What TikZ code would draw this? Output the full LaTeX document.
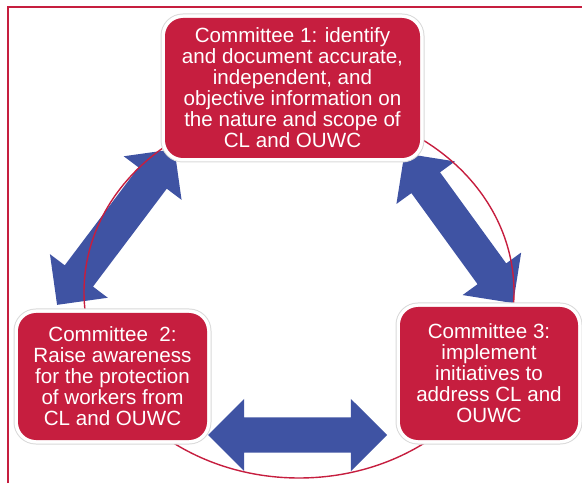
\documentclass[tikz,border=0pt]{standalone}
\usepackage{fontspec}
\setmainfont{Liberation Sans}
\usetikzlibrary{shapes.arrows}
\definecolor{crimson}{RGB}{198,30,63}
\definecolor{royal}{RGB}{63,83,163}
\begin{document}
\begin{tikzpicture}[x=1pt,y=1pt,
  committee/.style={rectangle, rounded corners=18pt, fill=crimson, text=white,
    align=center, inner sep=0pt, font=\fontsize{20.6}{21}\selectfont,
    preaction={draw=black!15, line width=9pt},
    preaction={draw=white, line width=7pt}},
  link/.style={double arrow, fill=royal, inner xsep=0pt, inner ysep=17.5pt,
    double arrow head extend=18.5pt, double arrow tip angle=90,
    double arrow head indent=0pt},
  frameline/.style={draw=crimson, line width=1.6pt},
  ring/.style={draw=crimson, line width=1.4pt}]
\useasboundingbox (0,0) rectangle (582,483);

% outer frame (top and left edges)
\draw[frameline] (8,0) -- (8,476) -- (582,476);

% double block arrows between the committees
\node[link, minimum height=195pt, rotate=53] (arrL) at (115.75,256) {};
\node[link, minimum height=185pt, rotate=-54] (arrR) at (458.8,254.75) {};
\node[link, minimum height=179pt] (arrB) at (297.5,48) {};

% cycle ring behind the boxes
\draw[ring] (299,191) ellipse [x radius=215, y radius=186];

% committees
\node[committee, minimum width=255pt, minimum height=140pt] (c1) at (292.5,395)
  {Committee 1: identify\\and document accurate,\\independent, and\\objective information on\\the nature and scope of\\CL and OUWC};
\node[committee, minimum width=189pt, minimum height=127pt] (c2) at (112.5,106.5)
  {Committee\ \ 2:\\Raise awareness\\for the protection\\of workers from\\CL and OUWC};
\node[committee, minimum width=178pt, minimum height=133pt] (c3) at (489,109.5)
  {Committee 3:\\implement\\initiatives to\\address CL and\\OUWC};
\end{tikzpicture}
\end{document}
